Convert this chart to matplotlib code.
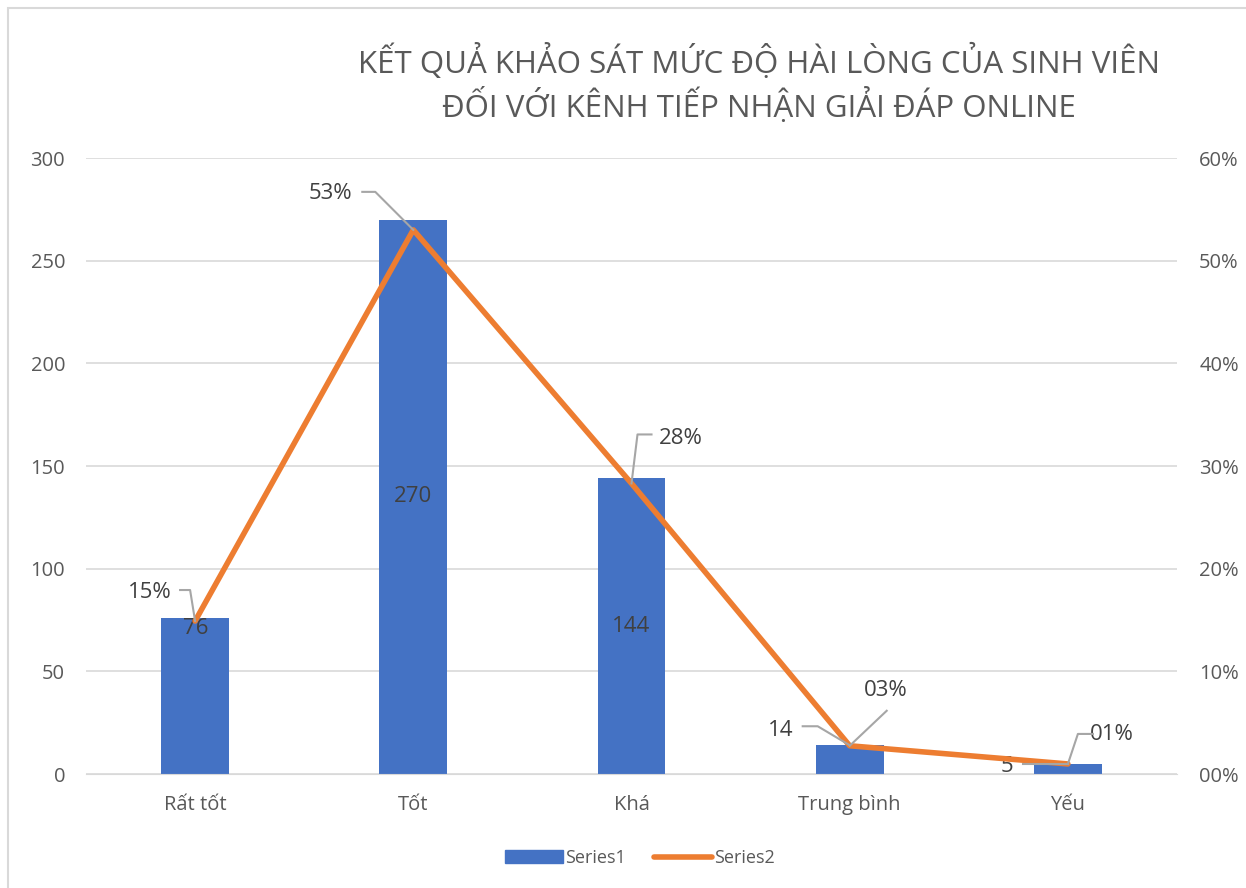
import matplotlib.pyplot as plt
from matplotlib.lines import Line2D
from matplotlib.patches import Rectangle
from matplotlib.transforms import IdentityTransform

# ---------- Dữ liệu ----------
categories = ["Rất tốt", "Tốt", "Khá", "Trung bình", "Yếu"]
counts = [76, 270, 144, 14, 5]                       # Series1 (cột)
percents = [0.149, 0.530, 0.283, 0.0275, 0.0098]    # Series2 (đường)
left_ticks = [0, 50, 100, 150, 200, 250, 300]
right_ticks = [0.0, 0.1, 0.2, 0.3, 0.4, 0.5, 0.6]
title = "KẾT QUẢ KHẢO SÁT MỨC ĐỘ HÀI LÒNG CỦA SINH VIÊN\nĐỐI VỚI KÊNH TIẾP NHẬN GIẢI ĐÁP ONLINE"

# ---------- Kiểu ----------
BLUE = "#4472C4"
ORANGE = "#ED7D31"
GRID = "#D9D9D9"
TXT = "#595959"
LBL = "#404040"
LEADER = "#A6A6A6"
FONT = ["Open Sans", "DejaVu Sans"]
plt.rcParams["font.family"] = FONT

W, H = 1246, 888
fig = plt.figure(figsize=(W / 100, H / 100), dpi=100)
ax = fig.add_axes([86 / W, 114 / H, 1091 / W, 616 / H])
ax2 = ax.twinx()

x = list(range(len(categories)))
ax.bar(x, counts, width=0.31, color=BLUE, zorder=2)
ax2.plot(x, percents, color=ORANGE, lw=4, solid_capstyle="round", zorder=3)

ax.set_xlim(-0.5, len(categories) - 0.5)
ax.set_ylim(0, 300)
ax2.set_ylim(0, 0.6)
ax.set_yticks(left_ticks)
ax2.set_yticks(right_ticks)
ax2.set_yticklabels([f"{v * 100:02.0f}%" for v in right_ticks])
ax.set_xticks(x)
ax.set_xticklabels(categories)

ax.grid(axis="y", color=GRID, lw=1.2, zorder=0)
ax.set_axisbelow(True)
for a in (ax, ax2):
    for s in a.spines.values():
        s.set_visible(False)
ax.spines["bottom"].set_visible(True)
ax.spines["bottom"].set_color(GRID)
ax.tick_params(axis="y", length=0, pad=15, labelsize=14.5, labelcolor=TXT)
ax.tick_params(axis="x", length=0, pad=15, labelsize=14.5, labelcolor=TXT)
ax2.tick_params(axis="y", length=0, pad=16, labelsize=14.5, labelcolor=TXT)
ax.set_zorder(ax2.get_zorder() - 1)
ax.patch.set_visible(False)

# ---------- Nhãn dữ liệu ----------
# độ lệch (pixel) của chữ so với điểm, và đường dẫn (leader) từ chữ tới điểm
bar_lbl_off = [(1, -11), None, None, (-69, 15), (-61, -3)]
bar_leader = [None, None, None, [(-47, 19), (-32, 19)], [(-45, 0)]]
pct_lbl_off = [(-45, 29), (-83, 36), (49, 45), (36, 55), (44, 29)]
pct_leader = [[(-15, 31), (-5, 31)], [(-51, 38), (-38, 38)], [(20, 49), (6, 49)],
              [(37, 35)], [(25, 30), (10, 30)]]


def leader(px, py, pts):
    xs = [px + dx for dx, _ in pts] + [px]
    ys = [py + dy for _, dy in pts] + [py]
    fig.add_artist(Line2D(xs, ys, transform=IdentityTransform(), color=LEADER,
                          lw=1.5, zorder=4))


for i, v in enumerate(counts):
    if bar_lbl_off[i] is None:
        ax.text(i, v / 2, str(v), ha="center", va="center", fontsize=16,
                color=LBL, zorder=5)
        continue
    px, py = ax.transData.transform((i, v))
    ax.annotate(str(v), (i, v), xytext=bar_lbl_off[i], textcoords="offset pixels",
                ha="center", va="center", fontsize=16, color=LBL, zorder=5)
    if bar_leader[i]:
        leader(px, py, bar_leader[i])

for i, p in enumerate(percents):
    px, py = ax2.transData.transform((i, p))
    ax2.annotate(f"{p * 100:02.0f}%", (i, p), xytext=pct_lbl_off[i],
                 textcoords="offset pixels", ha="center", va="center",
                 fontsize=16, color=LBL, zorder=5)
    leader(px, py, pct_leader[i])

# ---------- Tiêu đề, chú giải, khung ----------
fig.text(759 / W, 1 - 84 / H, title, ha="center", va="center", fontsize=22.5,
         color=TXT, linespacing=1.3)

handles = [Rectangle((0, 0), 1, 1, color=BLUE),
           Line2D([], [], color=ORANGE, lw=4, solid_capstyle="round")]
fig.legend(handles, ["Series1", "Series2"], loc="center",
           bbox_to_anchor=(640 / W, 1 - 858 / H), ncol=2, frameon=False,
           fontsize=13, labelcolor=TXT, handlelength=3.2, handletextpad=0.1,
           columnspacing=1.6)

fig.add_artist(Rectangle((8 / W, -0.05), 1.2, 1.05 - 8 / H, fill=False,
                         edgecolor=GRID, lw=1.5, transform=fig.transFigure))

fig.savefig("out.png", dpi=100)
